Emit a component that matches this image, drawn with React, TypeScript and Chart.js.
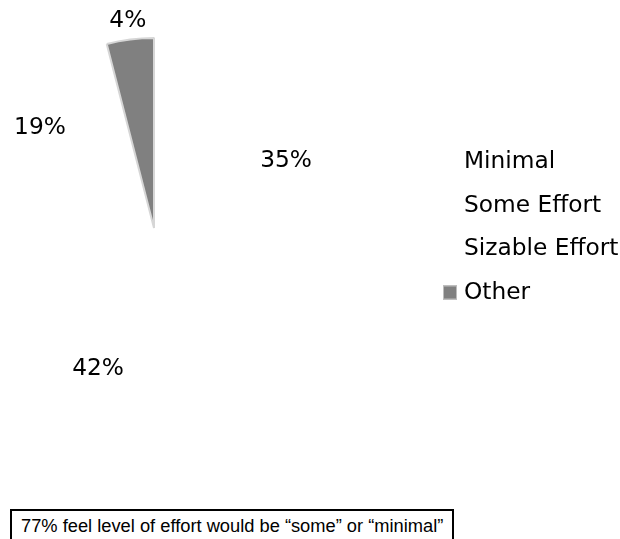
import React, { useEffect, useRef } from "react";
import { Chart, registerables } from "chart.js";

Chart.register(...registerables);

const categories = ["Minimal", "Some Effort", "Sizable Effort", "Other"];
const shares = [35, 42, 19, 4];
const sliceColors = ["#ffffff", "#ffffff", "#ffffff", "#808080"];
const sliceBorders = ["#ffffff", "#ffffff", "#ffffff", "#d6d6d6"];
const labelRadiusFactors = [0.78, 0.8, 0.8, 1.1];
const note = "77% feel level of effort would be \u201csome\u201d or \u201cminimal\u201d";

const FONT = "23.3px 'DejaVu Sans', Verdana, sans-serif";

const pctLabels = {
  id: "pctLabels",
  afterDatasetsDraw(chart: any) {
    const ctx = chart.ctx;
    const meta = chart.getDatasetMeta(0);
    const data = chart.data.datasets[0].data as number[];
    ctx.save();
    ctx.font = FONT;
    ctx.fillStyle = "#000";
    ctx.textAlign = "center";
    ctx.textBaseline = "middle";
    meta.data.forEach((arc: any, i: number) => {
      const p = arc.getProps(["x", "y", "startAngle", "endAngle", "outerRadius"], true);
      const mid = (p.startAngle + p.endAngle) / 2;
      const r = p.outerRadius * labelRadiusFactors[i];
      ctx.fillText(`${data[i]}%`, p.x + Math.cos(mid) * r, p.y + Math.sin(mid) * r);
    });
    ctx.restore();
  },
};

const sideLegend = {
  id: "sideLegend",
  afterDraw(chart: any) {
    const ctx = chart.ctx;
    const labels = chart.data.labels as string[];
    const ds = chart.data.datasets[0];
    const boxX = 443;
    const textX = 464;
    const top = 162;
    const step = 43.5;
    ctx.save();
    ctx.font = FONT;
    ctx.textBaseline = "middle";
    ctx.textAlign = "left";
    labels.forEach((lab, i) => {
      const y = top + i * step;
      ctx.fillStyle = ds.backgroundColor[i];
      ctx.fillRect(boxX, y - 7, 14, 14);
      if (ds.backgroundColor[i] !== "#ffffff") {
        ctx.strokeStyle = "#bdbdbd";
        ctx.lineWidth = 1;
        ctx.strokeRect(boxX + 0.5, y - 6.5, 13, 13);
      }
      ctx.fillStyle = "#000";
      ctx.fillText(lab, textX, y);
    });
    ctx.restore();
  },
};

export default function App() {
  const ref = useRef<HTMLCanvasElement | null>(null);
  useEffect(() => {
    if (!ref.current) return;
    const chart = new Chart(ref.current, {
      type: "pie",
      data: {
        labels: categories,
        datasets: [
          {
            data: shares,
            backgroundColor: sliceColors,
            borderColor: sliceBorders,
            borderWidth: [0, 0, 0, 2],
            radius: 190,
          } as any,
        ],
      },
      options: {
        responsive: false,
        animation: false,
        layout: { padding: { left: 0, right: 312, top: 0, bottom: 4 } },
        plugins: {
          legend: { display: false },
          tooltip: { enabled: false },
        },
      },
      plugins: [pctLabels, sideLegend],
    });
    return () => chart.destroy();
  }, []);

  return (
    <div style={{ position: "absolute", left: 0, top: 0, width: 620, height: 539, overflow: "hidden", background: "#fff" }}>
      <canvas ref={ref} width={620} height={460} style={{ position: "absolute", left: 0, top: 0 }} />
      <div
        style={{
          position: "absolute",
          left: 10,
          top: 509,
          width: 444,
          height: 40,
          boxSizing: "border-box",
          border: "2px solid #000",
          padding: "4px 0 0 9px",
          fontFamily: "'Liberation Sans', Arial, sans-serif",
          fontSize: 18.3,
          lineHeight: "22px",
          color: "#000",
          whiteSpace: "nowrap",
        }}
      >
        {note}
      </div>
    </div>
  );
}
